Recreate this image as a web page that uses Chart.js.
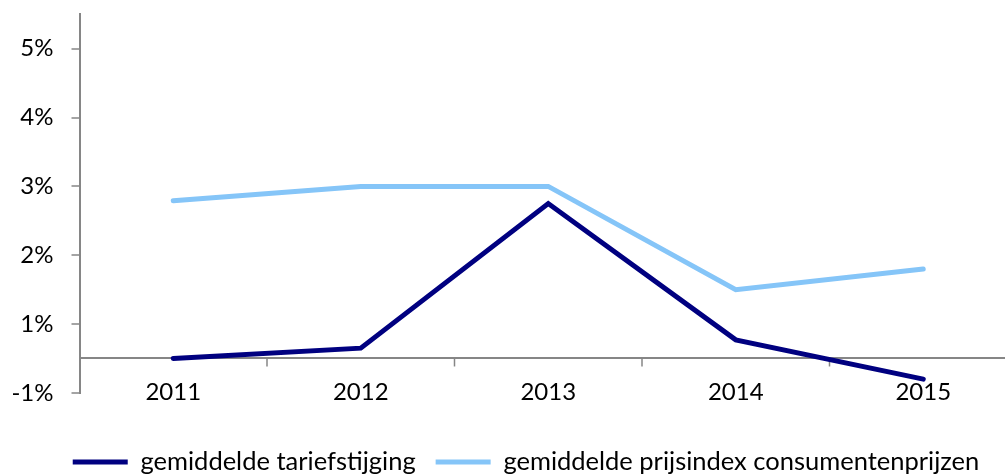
<!DOCTYPE html>
<html>
<head>
<meta charset="utf-8">
<script src="https://cdn.jsdelivr.net/npm/chart.js@4/dist/chart.umd.min.js"></script>
<style>
    html, body { margin: 0; padding: 0; background: #fff; overflow: hidden; }
    #wrap { width: 1005px; height: 474px; overflow: hidden; }
</style>
</head>
<body>
<div id="wrap"><canvas id="lineChart" width="1017" height="474"></canvas></div>
<script>
// Data
const years = ['2011', '2012', '2013', '2014', '2015'];
const tariefstijging = [0.0, 0.15, 2.25, 0.27, -0.3];
const prijsindex = [2.29, 2.5, 2.5, 1.0, 1.3];
const seriesNames = ['gemiddelde tariefstijging', 'gemiddelde prijsindex consumentenprijzen'];

// y tick positions and their labels (rounded like the original axis)
const yTickValues = [-0.5, 0, 0.5, 1.5, 2.5, 3.5, 4.5];
const yTickLabels = ['-1%', '', '1%', '2%', '3%', '4%', '5%'];

const axisGrey = '#868686';
const fontFamily = 'Lato, "Liberation Sans", sans-serif';
const legendFontSize = 25.5;
const legendPadding = 20;

// short tick marks under the zero line between the categories
const categoryTicks = {
    id: 'categoryTicks',
    beforeDatasetsDraw(chart) {
        const x = chart.scales.x;
        const y = chart.scales.y;
        const y0 = y.getPixelForValue(0);
        const half = (x.getPixelForValue(1) - x.getPixelForValue(0)) / 2;
        const ctx = chart.ctx;
        ctx.save();
        ctx.strokeStyle = axisGrey;
        ctx.lineWidth = 1.5;
        for (let i = 0; i < years.length; i++) {
            const bx = x.getPixelForValue(i) + half;
            ctx.beginPath();
            ctx.moveTo(bx, y0);
            ctx.lineTo(bx, y0 + 8);
            ctx.stroke();
        }
        ctx.restore();
    }
};

// move the legend row to where the original has it
const legendShift = {
    id: 'legendShift',
    afterLayout(chart) {
        const lg = chart.legend;
        const dx = 17.5;
        const dy = 462 - (lg.top + legendPadding + legendFontSize / 2);
        lg.left += dx; lg.right += dx;
        lg.top += dy; lg.bottom += dy;
    }
};

new Chart(document.getElementById('lineChart').getContext('2d'), {
    type: 'line',
    data: {
        labels: years,
        datasets: [{
            label: seriesNames[0],
            data: tariefstijging,
            borderColor: '#000080',
            backgroundColor: '#000080',
            borderWidth: 5,
            borderCapStyle: 'round',
            borderJoinStyle: 'miter',
            pointRadius: 0,
            tension: 0
        }, {
            label: seriesNames[1],
            data: prijsindex,
            borderColor: '#85C5F8',
            backgroundColor: '#85C5F8',
            borderWidth: 5,
            borderCapStyle: 'round',
            borderJoinStyle: 'miter',
            pointRadius: 0,
            tension: 0
        }]
    },
    options: {
        responsive: false,
        animation: false,
        layout: { padding: { top: 0, left: 0, right: 0, bottom: 25.6 } },
        scales: {
            x: {
                position: { y: -0.5 },
                offset: true,
                grid: { display: false, drawTicks: false },
                border: { display: false },
                ticks: {
                    color: '#000',
                    padding: -15,
                    font: { family: fontFamily, size: 24 }
                }
            },
            y: {
                min: -0.5,
                max: 5,
                afterBuildTicks(scale) {
                    scale.ticks = yTickValues.map(v => ({ value: v }));
                },
                afterFit(scale) {
                    scale.width = 79.5;
                    scale.paddingTop = 14.3;
                    scale.paddingBottom = 0;
                },
                border: { display: true, color: axisGrey, width: 2 },
                grid: {
                    drawOnChartArea: true,
                    tickLength: 8,
                    lineWidth: 2,
                    color: ctx => ctx.tick && ctx.tick.value === 0 ? axisGrey : 'rgba(0,0,0,0)',
                    tickColor: ctx => ctx.tick && ctx.tick.value === 0 ? 'rgba(0,0,0,0)' : axisGrey,
                    tickWidth: 1.5
                },
                ticks: {
                    color: '#000',
                    padding: 18,
                    font: { family: fontFamily, size: 24 },
                    callback: (value, index) => yTickLabels[index]
                }
            }
        },
        plugins: {
            legend: {
                position: 'bottom',
                align: 'center',
                labels: {
                    usePointStyle: true,
                    pointStyle: 'line',
                    pointStyleWidth: 55,
                    color: '#000',
                    padding: legendPadding,
                    font: { family: fontFamily, size: legendFontSize }
                }
            },
            tooltip: { enabled: false }
        }
    },
    plugins: [categoryTicks, legendShift]
});
</script>
</body>
</html>
